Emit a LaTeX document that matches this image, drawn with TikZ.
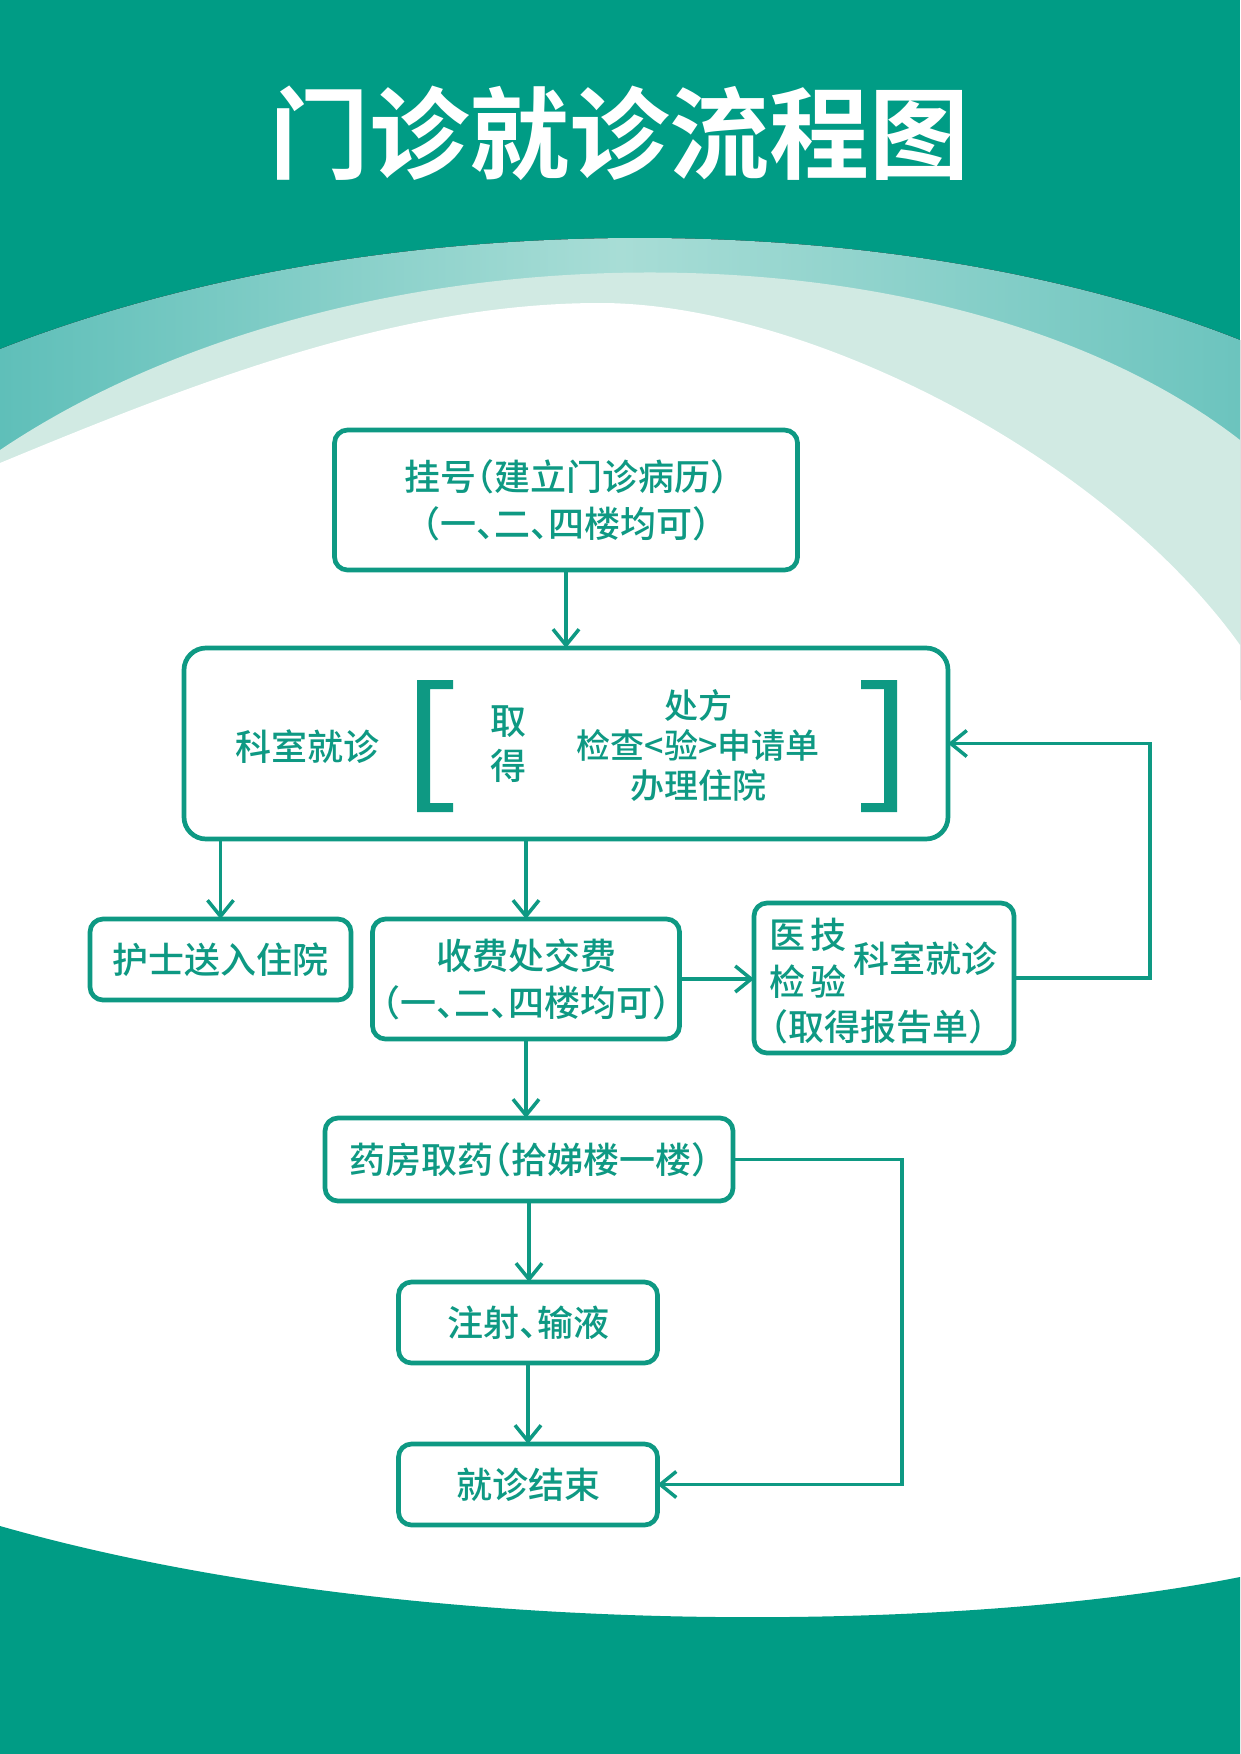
\documentclass[tikz,border=0pt]{standalone}
\usepackage{fontspec}
\newfontfamily\cjk[BoldFont={Noto Sans CJK SC Bold}]{Noto Sans CJK SC}
\newfontfamily\cjkmed[RawFeature=+halt]{Noto Sans CJK SC Medium}
\usetikzlibrary{arrows.meta}
\definecolor{mainteal}{HTML}{009C85}
\definecolor{lineteal}{HTML}{0E9983}
\definecolor{bandleft}{HTML}{5FBFB9}
\definecolor{bandmid}{HTML}{A8DDD6}
\definecolor{bandright}{HTML}{6CC4BE}
\definecolor{palegreen}{HTML}{D1EAE3}
\newcommand{\boxfont}{\cjkmed\fontsize{36}{47}\selectfont}

\begin{document}
\begin{tikzpicture}[x=1pt,y=-1pt,
  flowbox/.style={draw=lineteal,line width=4.7pt,rounded corners=13pt,fill=white,inner sep=0pt,outer sep=0pt},
  boxtext/.style={text=lineteal,font=\boxfont,align=center,inner sep=0pt},
  flowarrow/.style={draw=lineteal,line width=3.5pt,-{Straight Barb[length=16pt,width=26pt]}}]
\useasboundingbox (0,0) rectangle (1240,1754);
\fill[mainteal] (0,0) rectangle (1240,1754);
\fill[left color=bandleft,right color=bandright,middle color=bandmid] (0,349) .. controls (380,200) and (900,205) .. (1240,340) -- (1240,700) -- (0,700) -- cycle;
\fill[palegreen] (0,450) .. controls (350,215) and (950,215) .. (1240,440) -- (1240,700) -- (0,700) -- cycle;
\fill[white] (0,463) .. controls (200,380) and (400,303) .. (600,303) .. controls (800,303) and (1100,450) .. (1240,645) -- (1240,1754) -- (0,1754) -- cycle;
\fill[mainteal] (0,1526) .. controls (400,1640) and (950,1635) .. (1240,1577) -- (1240,1754) -- (0,1754) -- cycle;

\node[text=white,font=\cjk\bfseries\fontsize{100}{110}\selectfont] (title) at (619,133) {门诊就诊流程图};

\node[flowbox,minimum width=463pt,minimum height=140pt] (reg) at (566,500) {};
\node[boxtext] (regtext) at (reg) {挂号（建立门诊病历）\\（一、二、四楼均可）};
\node[flowbox,rounded corners=22pt,minimum width=764pt,minimum height=191pt] (clinic) at (566,743.5) {};
\node[boxtext] (clinicname) at (307,747) {科室就诊};
\node[boxtext,font=\cjkmed\fontsize{36}{45}\selectfont] (obtain) at (508,744) {取\\得};
\node[boxtext,font=\cjkmed\fontsize{34}{40}\selectfont] (items) at (698,745) {处方\\检查<验>申请单\\办理住院};
\fill[lineteal] (417,680) -- (453,680) -- (453,689) -- (430,689) -- (430,803) -- (453,803) -- (453,812) -- (417,812) -- cycle;
\fill[lineteal] (897,680) -- (861,680) -- (861,689) -- (884,689) -- (884,803) -- (861,803) -- (861,812) -- (897,812) -- cycle;

\node[flowbox,minimum width=261pt,minimum height=81pt] (nurse) at (220.5,959.5) {};
\node[boxtext] (nursetext) at (nurse) {护士送入住院};
\node[flowbox,minimum width=307pt,minimum height=120pt] (pay) at (526,979) {};
\node[boxtext] (paytext) at (pay) {收费处交费\\（一、二、四楼均可）};
\node[flowbox,minimum width=260pt,minimum height=150pt] (lab) at (884,978) {};
\node[boxtext] (labkind) at (808,958.5) {医\hspace{5pt}技\\检\hspace{5pt}验};
\node[boxtext] (labname) at (925,958.5) {科室就诊};
\node[boxtext] (labreport) at (878,1027) {（取得报告单）};
\node[flowbox,minimum width=408pt,minimum height=83pt] (pharm) at (529,1159.5) {};
\node[boxtext] (pharmtext) at (pharm) {药房取药（拾娣楼一楼）};
\node[flowbox,minimum width=259pt,minimum height=81pt] (inj) at (528,1322.5) {};
\node[boxtext] (injtext) at (inj) {注射、输液};
\node[flowbox,minimum width=259pt,minimum height=81pt] (finish) at (528,1484.5) {};
\node[boxtext] (finishtext) at (finish) {就诊结束};

\draw[flowarrow] (reg.south) -- (reg.south |- clinic.north);
\draw[flowarrow] (nurse.north |- clinic.south) -- (nurse.north);
\draw[flowarrow] (pay.north |- clinic.south) -- (pay.north);
\draw[flowarrow] (pay.east) -- (pay.east -| lab.west);
\draw[flowarrow] (lab.east) -- (1150,978) -- (1150,743.5) -- (clinic.east);
\draw[flowarrow] (pay.south) -- (pay.south |- pharm.north);
\draw[flowarrow] (pharm.south) -- (pharm.south |- inj.north);
\draw[flowarrow] (inj.south) -- (finish.north);
\draw[flowarrow] (pharm.east) -- (902,1159.5) -- (902,1484.5) -- (finish.east);
\end{tikzpicture}
\end{document}
